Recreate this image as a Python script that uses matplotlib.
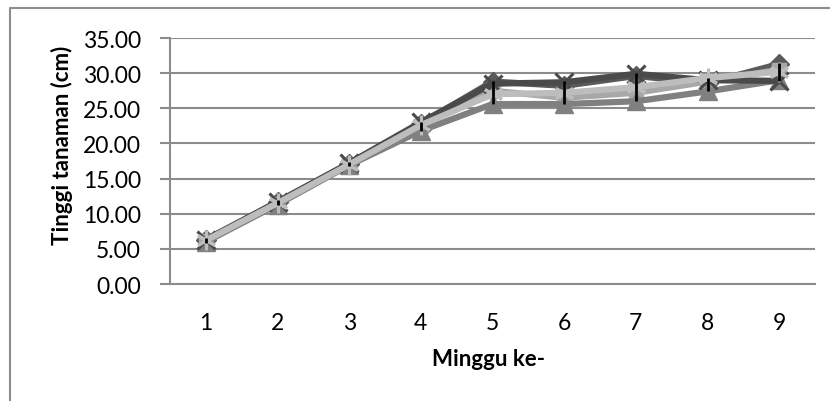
import matplotlib
matplotlib.use("Agg")
import matplotlib.pyplot as plt
from matplotlib.lines import Line2D

plt.rcParams['font.family'] = ['Lato', 'DejaVu Sans']

weeks = [1, 2, 3, 4, 5, 6, 7, 8, 9]
week_labels = ["1", "2", "3", "4", "5", "6", "7", "8", "9"]

s_diamond = [6.3, 11.6, 17.1, 22.8, 28.8, 28.2, 29.6, 28.6, 31.3]
s_square = [6.1, 11.4, 17.0, 22.5, 27.5, 26.5, 27.2, 28.8, 30.5]
s_triangle = [6.0, 11.3, 16.9, 21.8, 25.6, 25.6, 26.0, 27.4, 29.0]
s_cross = [6.3, 11.7, 17.2, 23.0, 28.5, 28.7, 29.9, 29.0, 28.9]
s_star = [6.2, 11.5, 17.0, 22.6, 27.0, 27.2, 28.0, 29.3, 30.2]

err_low = [5.9, 11.2, 16.8, 21.8, 25.6, 25.6, 26.0, 27.5, 28.9]
err_high = [6.6, 11.9, 17.3, 23.0, 28.9, 28.9, 30.0, 29.3, 31.5]

y_ticks = [0, 5, 10, 15, 20, 25, 30, 35]

W, H = 830, 402
fig = plt.figure(figsize=(W / 100, H / 100), dpi=100)
ax = fig.add_axes([170 / W, 1 - 285 / H, (815 - 170) / W, (285 - 39) / H])

series = [
    (s_diamond, '#5a5a5a', 'D', 10, 'full'),
    (s_square, '#a8a8a8', 's', 10, 'full'),
    (s_triangle, '#808080', '^', 13, 'full'),
    (s_cross, '#4a4a4a', 'x', 13, 'line'),
    (s_star, '#bdbdbd', (6, 2, 0), 14, 'line'),
]

for vals, col, mk, ms, kind in series:
    if kind == 'full':
        ax.plot(weeks, vals, color=col, lw=4.5, marker=mk, ms=ms,
                mfc=col, mec=col, solid_joinstyle='round', zorder=3)
    else:
        ax.plot(weeks, vals, color=col, lw=4.5, marker=mk, ms=ms,
                mec=col, mew=2.2, solid_joinstyle='round', zorder=3)

ax.vlines(weeks, err_low, err_high, colors='black', lw=2.0, zorder=5)

ax.set_xlim(0.5, 9.5)
ax.set_ylim(0, 35)
ax.set_yticks(y_ticks)
ax.set_yticklabels([f"{v:.2f}" for v in y_ticks])
ax.set_xticks(weeks)
ax.set_xticklabels(week_labels)
ax.grid(axis='y', color='#8c8c8c', lw=1.5)
ax.set_axisbelow(True)
for side in ['top', 'right']:
    ax.spines[side].set_visible(False)
for side in ['left', 'bottom']:
    ax.spines[side].set_color('#8c8c8c')
    ax.spines[side].set_linewidth(1.5)
ax.tick_params(axis='y', length=7, width=1.5, color='#8c8c8c', labelsize=16.5, pad=14)
ax.tick_params(axis='x', length=0, labelsize=16.5, pad=20)

fig.text(62 / W, 1 - 145 / H, "Tinggi tanaman (cm)", rotation=90, ha='center', va='center',
         fontsize=16, fontweight='bold')
fig.text(488 / W, 1 - 360 / H, "Minggu ke-", ha='center', va='center',
         fontsize=16, fontweight='bold')

fig.add_artist(Line2D([10 / W, 10 / W, 1.0], [0.0, 1 - 9 / H, 1 - 9 / H],
                      transform=fig.transFigure, color='#8c8c8c', lw=1.5))

fig.savefig("out.png", dpi=100, facecolor='white')
